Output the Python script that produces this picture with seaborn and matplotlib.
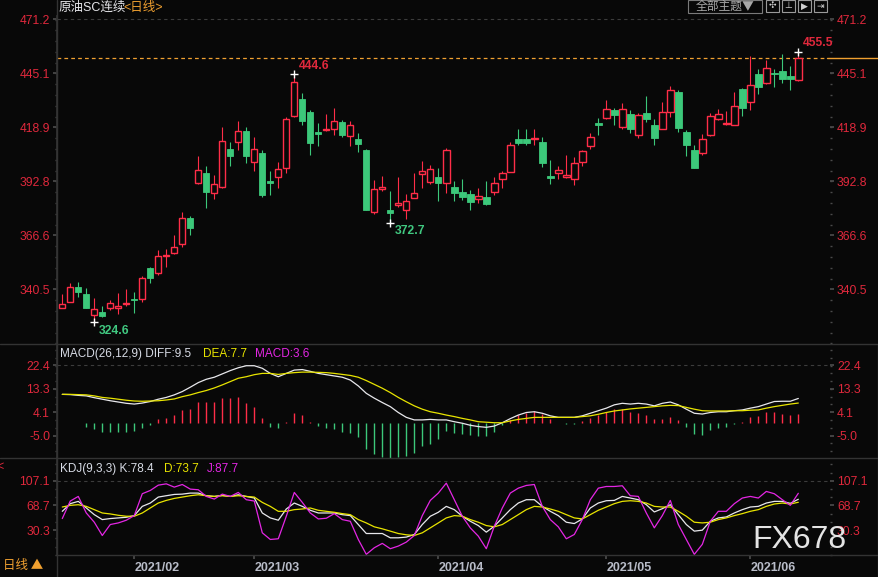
import numpy as np
import pandas as pd
import matplotlib
matplotlib.use("Agg")
import matplotlib.pyplot as plt
from matplotlib.ticker import FixedLocator, AutoMinorLocator
from matplotlib.patches import Rectangle
from matplotlib.lines import Line2D
import seaborn as sns

# daily candles, 原油SC连续
opens = [331.7, 334.6, 341.7, 338.3, 328.3, 329.6, 331.7, 331.7, 333.5, 335.9,
         336.1, 350.9, 348.3, 356.8, 358.3, 362.3, 375.0, 391.8, 396.6, 387.0,
         390.2, 408.4, 411.6, 417.1, 401.9, 406.5, 392.9, 395.0, 399.4, 424.5,
         432.5, 426.3, 416.6, 417.6, 418.2, 421.4, 414.8, 413.1, 407.9, 378.1,
         389.2, 378.9, 381.5, 379.1, 384.9, 396.5, 392.6, 394.9, 392.1, 390.0,
         387.6, 386.5, 384.1, 385.2, 387.8, 393.7, 397.4, 413.2, 413.2, 413.2,
         411.8, 395.3, 397.0, 395.0, 393.7, 401.9, 409.7, 420.8, 423.2, 427.1,
         419.2, 425.3, 415.3, 425.8, 420.0, 418.2, 426.1, 436.0, 416.6, 407.9,
         406.3, 415.3, 423.1, 420.7, 420.2, 437.4, 431.3, 444.7, 440.5, 445.1,
         446.1, 443.7, 441.9]
highs = [338.3, 343.6, 344.1, 341.2, 336.4, 332.5, 335.4, 338.8, 340.7, 339.3,
         347.0, 351.5, 359.6, 360.1, 366.8, 377.9, 376.0, 405.0, 400.0, 395.8,
         419.0, 411.6, 421.9, 419.0, 414.2, 407.9, 397.8, 402.1, 424.0, 444.6,
         435.4, 427.2, 421.0, 425.3, 428.2, 422.4, 421.9, 416.1, 408.4, 393.4,
         395.3, 388.1, 394.9, 386.6, 396.8, 402.6, 400.7, 399.2, 408.9, 392.9,
         393.9, 388.4, 389.5, 392.9, 394.9, 397.8, 411.8, 418.1, 418.1, 418.1,
         414.2, 403.1, 400.2, 405.5, 404.4, 408.1, 416.0, 423.2, 432.1, 428.2,
         430.6, 427.3, 425.7, 434.0, 422.9, 431.1, 438.9, 436.9, 417.6, 410.2,
         415.7, 425.7, 427.7, 426.8, 436.0, 437.7, 453.4, 447.1, 451.4, 447.1,
         454.3, 448.5, 455.5]
lows = [331.5, 334.4, 337.0, 331.3, 324.6, 327.2, 330.6, 328.6, 332.5, 329.3,
        334.3, 343.8, 347.7, 351.5, 357.6, 361.2, 367.0, 391.6, 380.0, 384.4,
        389.7, 400.2, 407.9, 401.6, 397.9, 385.4, 386.3, 389.7, 397.0, 424.0,
        420.0, 405.5, 409.8, 417.1, 415.3, 414.3, 410.0, 406.9, 378.7, 377.1,
        388.2, 372.7, 380.5, 374.7, 384.7, 389.7, 391.6, 383.4, 387.3, 383.4,
        383.7, 378.9, 382.4, 381.5, 386.3, 389.5, 397.2, 410.3, 410.3, 410.3,
        399.7, 391.5, 393.9, 394.5, 391.1, 400.3, 408.2, 415.0, 423.0, 420.1,
        417.9, 416.3, 413.9, 421.6, 410.5, 418.0, 424.0, 416.8, 405.2, 399.2,
        405.5, 414.8, 422.6, 420.0, 420.0, 424.4, 427.3, 435.0, 440.0, 438.5,
        440.5, 436.9, 441.4]
closes = [333.3, 341.5, 339.3, 331.5, 330.9, 327.4, 333.8, 332.5, 333.9, 335.3,
          345.9, 346.2, 356.5, 357.2, 360.9, 374.9, 370.4, 398.1, 387.8, 391.3,
          412.1, 405.2, 416.9, 405.2, 408.2, 386.3, 392.1, 398.6, 422.7, 440.6,
          422.1, 411.4, 415.8, 418.1, 421.8, 415.3, 419.8, 411.0, 378.9, 388.9,
          390.0, 377.6, 382.1, 383.1, 387.0, 397.8, 398.6, 392.1, 407.7, 387.3,
          385.4, 382.9, 385.5, 381.8, 391.8, 396.6, 410.1, 411.4, 411.4, 413.7,
          401.8, 394.5, 398.1, 395.8, 401.5, 407.3, 414.0, 419.8, 427.6, 425.0,
          427.6, 418.2, 424.7, 422.9, 413.9, 426.3, 436.9, 418.7, 410.5, 399.4,
          413.3, 424.2, 425.2, 421.0, 429.0, 428.4, 439.2, 438.5, 447.4, 444.7,
          442.4, 442.4, 452.6]

# MACD(26,12,9)
diff = [11.1, 11.0, 10.7, 10.5, 9.8, 9.2, 8.6, 8.1, 7.6, 7.3,
        7.7, 8.3, 9.2, 9.9, 10.9, 12.2, 13.9, 15.7, 17.0, 17.8,
        19.1, 20.4, 21.5, 22.3, 22.3, 21.3, 19.3, 18.0, 19.3, 20.6,
        20.8, 20.1, 19.3, 18.8, 18.3, 17.8, 16.7, 14.4, 11.5, 9.6,
        7.9, 6.3, 4.0, 2.1, 1.1, 1.1, 1.3, 1.1, 1.1, 0.4,
        -0.2, -1.0, -1.5, -1.8, -1.3, 0.0, 1.6, 3.0, 4.0, 4.3,
        3.7, 2.7, 2.1, 2.1, 2.1, 2.7, 3.7, 4.7, 5.7, 7.0,
        7.6, 7.3, 7.6, 7.3, 6.6, 7.6, 8.1, 7.0, 5.3, 3.7,
        3.4, 4.0, 4.3, 4.3, 4.7, 5.0, 5.7, 6.3, 7.3, 8.3,
        8.4, 8.4, 9.5]
dea = [11.1, 11.1, 11.0, 10.9, 10.5, 9.9, 9.6, 9.2, 8.8, 8.5,
       8.4, 8.5, 8.6, 8.9, 9.3, 10.2, 10.9, 11.8, 12.6, 13.6,
       14.8, 16.1, 17.4, 18.0, 18.8, 19.3, 19.3, 18.9, 19.3, 19.6,
       19.8, 19.8, 19.7, 19.6, 19.3, 18.9, 18.5, 17.8, 16.5, 15.0,
       13.5, 11.8, 9.9, 8.2, 6.6, 5.3, 4.3, 3.7, 3.0, 2.4,
       1.7, 1.1, 0.4, 0.2, 0.0, 0.0, 0.7, 1.3, 1.7, 2.1,
       2.1, 2.1, 2.1, 2.1, 2.1, 2.4, 2.7, 3.3, 4.0, 4.6,
       5.0, 5.4, 5.7, 6.0, 6.3, 6.6, 6.8, 6.7, 6.0, 5.3,
       4.7, 4.6, 4.6, 4.6, 4.7, 4.7, 4.9, 5.0, 5.7, 6.3,
       6.8, 7.3, 7.7]
macd_hist = [-0.3, -0.1, -0.1, -1.6, -2.6, -3.6, -3.6, -3.6, -3.6, -3.3,
             -2.0, -1.0, 1.6, 2.0, 2.9, 4.9, 5.2, 8.3, 8.3, 8.3,
             9.6, 9.6, 9.9, 7.9, 6.0, 1.7, -1.6, -2.1, 0.3, 3.8,
             2.9, 0.3, -1.3, -2.1, -2.3, -3.6, -3.9, -5.5, -10.4, -12.4,
             -13.3, -13.7, -13.3, -13.0, -11.7, -9.1, -8.5, -6.2, -3.3, -3.9,
             -4.3, -4.9, -5.2, -5.2, -3.6, -1.0, 1.0, 2.9, 3.9, 4.7,
             3.6, 1.3, -0.3, -0.5, -0.5, 0.7, 2.0, 2.9, 4.2, 5.2,
             5.5, 4.2, 3.9, 2.9, 1.3, 1.3, 2.3, 0.9, -1.6, -4.6,
             -4.9, -2.9, -2.0, -1.6, -0.5, 0.3, 2.1, 2.6, 4.2, 4.2,
             3.6, 2.9, 3.6]

# KDJ(9,3,3)
k_line = [59.6, 71.5, 75.1, 64.8, 54.4, 46.7, 48.3, 49.3, 50.3, 52.9,
          67.3, 72.5, 81.8, 83.9, 85.9, 86.4, 88.0, 88.0, 83.9, 82.8,
          84.4, 82.8, 85.4, 82.8, 80.3, 57.0, 49.3, 45.7, 63.2, 72.5,
          67.3, 61.2, 57.0, 57.0, 57.0, 54.4, 52.9, 39.0, 25.0, 25.0,
          25.0, 18.3, 18.3, 19.4, 23.5, 39.0, 51.9, 58.1, 67.3, 62.2,
          51.9, 44.1, 37.4, 27.1, 36.4, 49.3, 62.2, 72.5, 77.7, 77.7,
          67.3, 59.6, 52.9, 42.6, 40.5, 47.7, 64.8, 72.5, 76.1, 76.6,
          82.8, 80.3, 77.7, 69.9, 58.6, 63.7, 69.9, 54.4, 39.0, 28.7,
          30.2, 44.1, 49.3, 50.8, 57.0, 62.2, 66.3, 67.3, 72.5, 75.1,
          75.1, 72.0, 78.4]
d_line = [66.3, 68.9, 69.9, 67.3, 62.2, 57.0, 55.5, 53.4, 51.9, 51.9,
          57.0, 64.8, 72.5, 76.6, 79.7, 81.8, 83.9, 85.4, 83.9, 82.8,
          83.9, 82.8, 83.9, 82.8, 81.8, 73.5, 67.3, 59.6, 59.6, 62.2,
          63.2, 64.8, 61.2, 59.6, 58.1, 56.0, 54.4, 46.7, 41.5, 35.4,
          32.3, 28.7, 25.0, 23.0, 21.9, 26.1, 33.8, 41.5, 49.3, 52.9,
          51.9, 46.7, 42.6, 37.4, 35.4, 39.0, 46.7, 54.4, 62.2, 67.3,
          66.3, 63.2, 59.6, 54.4, 49.3, 47.7, 54.4, 61.2, 66.3, 71.5,
          75.1, 76.1, 75.1, 72.5, 67.3, 66.3, 66.3, 59.6, 51.9, 42.6,
          41.5, 42.6, 46.7, 49.3, 52.9, 56.0, 59.6, 62.2, 67.3, 71.0,
          72.5, 71.0, 73.7]
j_line = [48.3, 75.6, 82.8, 57.0, 42.6, 21.9, 39.0, 41.5, 45.7, 52.9,
          87.0, 92.1, 100.4, 102.4, 97.3, 101.4, 94.2, 93.2, 82.8, 78.7,
          86.4, 82.8, 89.0, 77.7, 75.6, 26.1, 15.7, 16.8, 51.9, 89.0,
          73.5, 57.0, 47.7, 48.8, 56.0, 46.7, 44.1, 15.7, -7.5, 2.8,
          9.6, 1.3, 5.4, 11.6, 21.9, 52.9, 76.6, 88.0, 103.5, 77.7,
          51.9, 33.8, 20.9, 1.3, 36.4, 64.8, 88.0, 95.7, 99.9, 101.4,
          67.3, 46.7, 35.4, 16.8, 23.5, 46.7, 77.7, 95.7, 98.3, 98.3,
          99.4, 83.9, 82.8, 57.0, 33.8, 52.9, 76.6, 39.0, 15.7, -7.5,
          8.1, 44.1, 59.6, 59.6, 71.5, 80.3, 82.8, 80.3, 90.6, 87.0,
          77.7, 68.9, 87.7]

month_starts = [9, 24, 47, 68, 86]
month_labels = ["2021/02", "2021/03", "2021/04", "2021/05", "2021/06"]
price_ticks = [340.5, 366.6, 392.8, 418.9, 445.1, 471.2]
macd_ticks = [-5.0, 4.1, 13.3, 22.4]
kdj_ticks = [30.3, 68.7, 107.1]
high_marks = {29: 444.6, 92: 455.5}
low_marks = {4: 324.6, 41: 372.7}
last_price = closes[-1]

BG = "#080808"
RED = "#ff2d48"
GREEN = "#3cc87a"
TXT_RED = "#e0283c"
WHITE = "#e8e8ec"
YELLOW = "#e8e400"
MAGENTA = "#e426e4"
ORANGE = "#f0a030"
LINE = "#333333"

sns.set_theme(style="dark", rc={"axes.facecolor": BG, "figure.facecolor": BG,
                                "axes.edgecolor": LINE, "axes.grid": False})
plt.rcParams["font.family"] = ["Liberation Sans", "Noto Sans CJK SC", "DejaVu Sans"]

W, H = 879, 577
fig = plt.figure(figsize=(W / 100, H / 100), dpi=100)


def box(x0, y0, x1, y1):
    return [x0 / W, 1 - y1 / H, (x1 - x0) / W, (y1 - y0) / H]


def fx(x):
    return x / W


def fy(y):
    return 1 - y / H


ax_p = fig.add_axes(box(57, 16, 830, 344))
ax_m = fig.add_axes(box(57, 344, 830, 458))
ax_k = fig.add_axes(box(57, 458, 830, 555))

df = pd.DataFrame({"open": opens, "high": highs, "low": lows, "close": closes,
                   "diff": diff, "dea": dea, "hist": macd_hist,
                   "K": k_line, "D": d_line, "J": j_line})
df["i"] = np.arange(len(df))
up = (df["close"] >= df["open"]).values

# ---- price panel
ax_p.vlines(df["i"], df["low"], df["high"], colors=np.where(up, RED, GREEN), linewidth=0.8, zorder=2)
bottom = np.minimum(df["open"], df["close"])
height = np.maximum((df["close"] - df["open"]).abs(), 0.45)
ax_p.bar(df["i"][up], height[up], bottom=bottom[up], width=0.8, facecolor=BG,
         edgecolor=RED, linewidth=1.0, zorder=3)
ax_p.bar(df["i"][~up], height[~up], bottom=bottom[~up], width=0.8, facecolor=GREEN,
         edgecolor=GREEN, linewidth=0.6, zorder=3)

ax_p.axhline(price_ticks[-1], color="#3c3c3c", linewidth=0.8, dashes=(3, 3), zorder=1)
ax_p.axhline(last_price, xmax=(827 - 57) / (830 - 57), color=ORANGE, linewidth=0.9, dashes=(3, 2.5), zorder=1)
ax_p.plot([95.6, 103], [last_price, last_price], color=ORANGE, linewidth=1.0, clip_on=False)

for i, v in high_marks.items():
    ax_p.plot(i, v, marker="+", color="white", markersize=6, mew=1.0, zorder=5)
    ax_p.annotate(f"{v:.1f}", (i, v), xytext=(3, 6), textcoords="offset points",
                  color=TXT_RED, fontsize=8.7, fontweight="bold", ha="left", va="center")
for i, v in low_marks.items():
    ax_p.plot(i, v, marker="+", color="white", markersize=6, mew=1.0, zorder=5)
    ax_p.annotate(f"{v:.1f}", (i, v), xytext=(3, -6), textcoords="offset points",
                  color="#40c880", fontsize=8.7, fontweight="bold", ha="left", va="center")

ax_p.set_ylim(314.1, 472.7)
ax_p.yaxis.set_major_locator(FixedLocator(price_ticks))
ax_p.set_yticklabels([f"{t:.1f}" for t in price_ticks])
ax_p.yaxis.set_minor_locator(AutoMinorLocator(5))

# ---- MACD panel
colors_h = np.where(df["hist"] >= 0, RED, GREEN)
ax_m.vlines(df["i"], 0, df["hist"], colors=colors_h, linewidth=1.0)
sns.lineplot(data=df, x="i", y="diff", ax=ax_m, color=WHITE, linewidth=0.9)
sns.lineplot(data=df, x="i", y="dea", ax=ax_m, color=YELLOW, linewidth=0.9)
ax_m.axhline(macd_ticks[-1], color="#3c3c3c", linewidth=0.8, dashes=(3, 3), zorder=0)
ax_m.set_ylim(-13.8, 30.8)
ax_m.yaxis.set_major_locator(FixedLocator(macd_ticks))
ax_m.set_yticklabels([f"{t:.1f}" for t in macd_ticks])
ax_m.yaxis.set_minor_locator(AutoMinorLocator(3))

# ---- KDJ panel
sns.lineplot(data=df, x="i", y="K", ax=ax_k, color=WHITE, linewidth=0.9)
sns.lineplot(data=df, x="i", y="D", ax=ax_k, color=YELLOW, linewidth=0.9)
sns.lineplot(data=df, x="i", y="J", ax=ax_k, color=MAGENTA, linewidth=0.9)
ax_k.axhline(kdj_ticks[-1], color="#3c3c3c", linewidth=0.8, dashes=(3, 3), zorder=0)
ax_k.set_ylim(-8.5, 142.7)
ax_k.yaxis.set_major_locator(FixedLocator(kdj_ticks))
ax_k.set_yticklabels([f"{t:.1f}" for t in kdj_ticks])
ax_k.yaxis.set_minor_locator(AutoMinorLocator(3))

for ax in (ax_p, ax_m, ax_k):
    ax.set_facecolor(BG)
    ax.set_xlim(-0.66, 95.96)
    ax.set_xlabel("")
    ax.set_ylabel("")
    ax.grid(False)
    for s in ax.spines.values():
        s.set_visible(False)
    ax.spines["left"].set_visible(True)
    ax.spines["left"].set_color(LINE)
    ax.tick_params(axis="y", which="both", left=True, right=True, labelleft=True,
                   labelright=True, labelcolor=TXT_RED, color="#4a4a4a", direction="out",
                   labelsize=8.7)
    ax.tick_params(axis="y", which="major", length=3, pad=2)
    ax.tick_params(axis="y", which="minor", length=1.5)
    ax.tick_params(axis="x", which="both", bottom=False, labelbottom=False)

ax_k.set_xticks(month_starts)
ax_k.set_xticklabels(month_labels)
ax_k.tick_params(axis="x", bottom=True, labelbottom=True, length=3, color="#4a4a4a",
                 pad=2, labelsize=9, labelcolor="#b8bcc8")
for lab in ax_k.get_xticklabels():
    lab.set_fontweight("bold")
    lab.set_horizontalalignment("left")

# separators
for y, x0 in ((344, 0), (458, 0), (555, 57)):
    fig.add_artist(Line2D([fx(x0), 1], [fy(y), fy(y)], color=LINE, linewidth=1.0))
fig.add_artist(Line2D([fx(57), fx(57)], [0, 1], color=LINE, linewidth=1.0))
fig.add_artist(Line2D([fx(878), fx(878)], [0, fy(344)], color=LINE, linewidth=1.0))

# headers
fig.text(fx(59), fy(8), "原油SC连续", color="#e6e6ea", fontsize=9, va="center", ha="left")
fig.text(fx(123), fy(8), "<日线>", color=ORANGE, fontsize=9, va="center", ha="left")
fig.text(fx(60), fy(354), "MACD(26,12,9) DIFF:9.5", color="#d8dce6", fontsize=8.5, va="center")
fig.text(fx(203), fy(354), "DEA:7.7", color=YELLOW, fontsize=8.5, va="center")
fig.text(fx(255), fy(354), "MACD:3.6", color=MAGENTA, fontsize=8.5, va="center")
fig.text(fx(60), fy(469), "KDJ(9,3,3) K:78.4", color="#d8dce6", fontsize=8.5, va="center")
fig.text(fx(164), fy(469), "D:73.7", color=YELLOW, fontsize=8.5, va="center")
fig.text(fx(207), fy(469), "J:87.7", color=MAGENTA, fontsize=8.5, va="center")
fig.text(fx(3), fy(565), "日线 ▲", color=ORANGE, fontsize=9, va="center",
         family=["Noto Sans CJK SC", "DejaVu Sans"])
fig.text(fx(-4), fy(467), "<", color=TXT_RED, fontsize=9, va="center", ha="left")

# toolbar at the top right
fig.add_artist(Rectangle((fx(688), fy(13)), (762 - 688) / W, 13 / H, fill=False,
                         edgecolor="#7a7a7a", linewidth=0.8, transform=fig.transFigure))
fig.text(fx(725), fy(6.5), "全部主题▼", color="#a8a8a8", fontsize=8.5, ha="center", va="center",
         family=["Noto Sans CJK SC", "DejaVu Sans"])
for x0, glyph in ((766, "✣"), (782, "⊥"), (798, "▶"), (814, "⇥")):
    fig.add_artist(Rectangle((fx(x0), fy(12)), 13 / W, 12 / H, fill=False,
                             edgecolor="#9a9a9a", linewidth=0.8, transform=fig.transFigure))
    fig.text(fx(x0 + 6.5), fy(6), glyph, color="#d0d0d0", fontsize=6.5, ha="center",
             va="center", family=["DejaVu Sans"])

# watermark
fig.text(fx(799), fy(540), "FX678", color="#e4e4e4", fontsize=23, ha="center", va="center")

fig.savefig("out.png", dpi=100, facecolor=BG)
